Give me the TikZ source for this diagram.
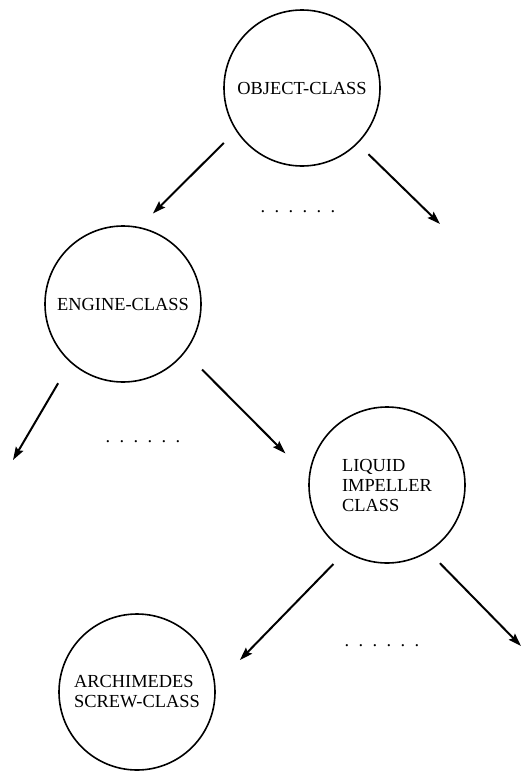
\documentclass[tikz,border=0pt]{standalone}
\usepackage{fontspec}
\setmainfont{Liberation Serif}
\usetikzlibrary{arrows.meta}
\newcommand{\sixdots}{.\hspace{9.4pt}.\hspace{9.4pt}.\hspace{9.4pt}.\hspace{9.4pt}.\hspace{9.4pt}.}

\begin{document}
\begin{tikzpicture}[x=1pt, y=1pt, line width=1.6pt,
		>={Stealth[length=13pt, width=8.5pt, inset=2pt]}]
		\tikzstyle{classnode}=[circle, draw=black, line width=1.6pt,
		minimum size=156pt, inner sep=0pt, align=left,
		font=\fontsize{18.4}{20}\selectfont]
		\tikzstyle{link}=[line width=2pt]
		\tikzstyle{dots}=[inner sep=0pt, font=\fontsize{18.4}{20}\selectfont]

		\useasboundingbox (0,0) rectangle (522,-771);

		\node[classnode](obj) at (302,-88) 	{OBJECT-CLASS};
		\node[classnode](eng) at (123,-304) 	{ENGINE-CLASS};
		\node[classnode](liq) at (387,-485) 	{LIQUID\\IMPELLER\\CLASS};
		\node[classnode](arch) at (137,-692) 	{ARCHIMEDES\\SCREW-CLASS};

		\node[dots](d1) at (298,-212) 	{\sixdots};
		\node[dots](d2) at (143,-442) 	{\sixdots};
		\node[dots](d3) at (382,-646) 	{\sixdots};

		% free ends
		\coordinate (objR) at (440,-224);
		\coordinate (engL) at (13,-460);
		\coordinate (liqR) at (521,-646);

		% Class links
		\path (obj.213) edge [link, ->, shorten <=17pt, shorten >=19pt] (eng.78);
		\path (obj.315) edge [link, ->, shorten <=15pt] (objR);
		\path (eng.228) edge [link, ->, shorten <=24pt] (engL);
		\path (eng.322) edge [link, ->, shorten <=24pt, shorten >=33pt] (liq.174);
		\path (liq.238) edge [link, ->, shorten <=17pt, shorten >=35pt] (arch.5);
		\path (liq.302) edge [link, ->, shorten <=16pt] (liqR);

\end{tikzpicture}
\end{document}
